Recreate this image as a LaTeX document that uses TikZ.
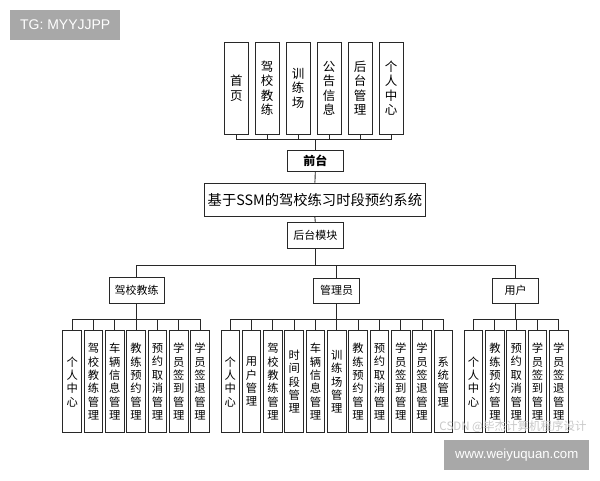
\documentclass[tikz,border=0pt]{standalone}
\usepackage{fontspec}
\newfontfamily\cjk{Noto Sans CJK SC}
\newfontfamily\wmfont{Liberation Sans}
\definecolor{wmgray}{RGB}{168,168,168}
\definecolor{csdngray}{RGB}{200,200,200}
\definecolor{ink}{RGB}{40,40,40}
\begin{document}
\begin{tikzpicture}[x=1pt,y=-1pt]
\tikzset{
  box/.style={draw=ink, line width=0.9pt, inner sep=0pt, align=center, fill=white,
              font=\cjk\fontsize{11}{13}\selectfont},
  topbox/.style={box, minimum width=24pt, minimum height=91.7pt,
              font=\cjk\fontsize{12.5}{14.4}\selectfont},
  midbox/.style={box, minimum width=56pt, minimum height=25.6pt},
  grpbox/.style={box, minimum width=46pt, minimum height=25pt},
  leaf/.style={box, minimum width=18.6pt, minimum height=102pt,
              font=\cjk\fontsize{11.3}{13.4}\selectfont},
  conn/.style={draw=ink, line width=0.9pt},
  wmbox/.style={fill=wmgray, inner sep=0pt, text=white},
}
\useasboundingbox (0,0) rectangle (600,480);

% watermarks (boxes)
\node[wmbox, minimum width=110.4pt, minimum height=30pt, font=\wmfont\fontsize{14}{16}\selectfont] (tg) at (65.2,25) {TG: MYYJJPP};

% top modules
\node[topbox] (t1) at (236.3,88.2) {首\\页};
\node[topbox] (t2) at (267.2,88.2) {驾\\校\\教\\练};
\node[topbox] (t3) at (298.2,88.2) {训\\练\\场};
\node[topbox] (t4) at (329.1,88.2) {公\\告\\信\\息};
\node[topbox] (t5) at (360.0,88.2) {后\\台\\管\\理};
\node[topbox] (t6) at (391.0,88.2) {个\\人\\中\\心};

\node[midbox, minimum height=21.7pt, font=\cjk\bfseries\fontsize{12}{14}\selectfont] (front) at (315.3,160.8) {前台};
\node[box, minimum width=221.7pt, minimum height=33.7pt, font=\cjk\fontsize{14.3}{16}\selectfont] (sys) at (314.9,199.9) {基于SSM的驾校练习时段预约系统};
\node[midbox] (back) at (315.3,235.5) {后台模块};

\coordinate (busTop) at (315.3,139.5);
\foreach \i in {1,...,6} {\draw[conn] (t\i.south) -- (t\i.south |- busTop);}
\draw[conn] (t1.south |- busTop) -- (t6.south |- busTop);
\draw[conn] (busTop) -- (front.north);
\draw[conn] (front.south) -- (sys.north);
\draw[conn] (sys.south) -- (back.north);

% groups
\node[midbox, minimum width=55pt] (coach) at (136.5,290.5) {驾校教练};
\node[grpbox] (admin) at (336.6,290.7) {管理员};
\node[grpbox] (user) at (515.5,290.8) {用户};

\coordinate (busMain) at (315.3,265);
\draw[conn] (back.south) -- (busMain);
\draw[conn] (coach.north |- busMain) -- (user.north |- busMain);
\draw[conn] (coach.north |- busMain) -- (coach.north);
\draw[conn] (admin.north |- busMain) -- (admin.north);
\draw[conn] (user.north |- busMain) -- (user.north);

% coach leaves
\node[leaf] (c1) at (72.2,381.7) {个\\人\\中\\心};
\node[leaf] (c2) at (93.5,381.7) {驾\\校\\教\\练\\管\\理};
\node[leaf] (c3) at (114.8,381.7) {车\\辆\\信\\息\\管\\理};
\node[leaf] (c4) at (136.1,381.7) {教\\练\\预\\约\\管\\理};
\node[leaf] (c5) at (157.4,381.7) {预\\约\\取\\消\\管\\理};
\node[leaf] (c6) at (178.7,381.7) {学\\员\\签\\到\\管\\理};
\node[leaf] (c7) at (200.0,381.7) {学\\员\\签\\退\\管\\理};

% admin leaves
\node[leaf] (a1) at (230.3,381.7) {个\\人\\中\\心};
\node[leaf] (a2) at (251.6,381.7) {用\\户\\管\\理};
\node[leaf] (a3) at (272.9,381.7) {驾\\校\\教\\练\\管\\理};
\node[leaf] (a4) at (294.2,381.7) {时\\间\\段\\管\\理};
\node[leaf] (a5) at (315.5,381.7) {车\\辆\\信\\息\\管\\理};
\node[leaf] (a6) at (336.8,381.7) {训\\练\\场\\管\\理};
\node[leaf] (a7) at (358.1,381.7) {教\\练\\预\\约\\管\\理};
\node[leaf] (a8) at (379.4,381.7) {预\\约\\取\\消\\管\\理};
\node[leaf] (a9) at (400.7,381.7) {学\\员\\签\\到\\管\\理};
\node[leaf] (a10) at (422.0,381.7) {学\\员\\签\\退\\管\\理};
\node[leaf] (a11) at (443.3,381.7) {系\\统\\管\\理};

% user leaves
\node[leaf] (u1) at (473.6,381.7) {个\\人\\中\\心};
\node[leaf] (u2) at (494.9,381.7) {教\\练\\预\\约\\管\\理};
\node[leaf] (u3) at (516.2,381.7) {预\\约\\取\\消\\管\\理};
\node[leaf] (u4) at (537.5,381.7) {学\\员\\签\\到\\管\\理};
\node[leaf] (u5) at (558.8,381.7) {学\\员\\签\\退\\管\\理};

\coordinate (busC) at (136.1,319);
\draw[conn] (coach.south) -- (coach.south |- busC);
\draw[conn] (c1.north |- busC) -- (c7.north |- busC);
\foreach \i in {1,...,7} {\draw[conn] (c\i.north |- busC) -- (c\i.north);}

\coordinate (busA) at (336.8,319);
\draw[conn] (admin.south) -- (admin.south |- busA);
\draw[conn] (a1.north |- busA) -- (a11.north |- busA);
\foreach \i in {1,...,11} {\draw[conn] (a\i.north |- busA) -- (a\i.north);}

\coordinate (busU) at (516.2,319);
\draw[conn] (user.south) -- (user.south |- busU);
\draw[conn] (u1.north |- busU) -- (u5.north |- busU);
\foreach \i in {1,...,5} {\draw[conn] (u\i.north |- busU) -- (u\i.north);}

% watermarks
\node[text=csdngray, inner sep=0pt, font=\cjk\fontsize{11.5}{13}\selectfont] (csdn) at (513,427) {CSDN @毕杰计算机程序设计};
\node[wmbox, minimum width=145.3pt, minimum height=30pt, font=\wmfont\fontsize{13.2}{15}\selectfont] (www) at (516.7,455) {www.weiyuquan.com};
\end{tikzpicture}
\end{document}
